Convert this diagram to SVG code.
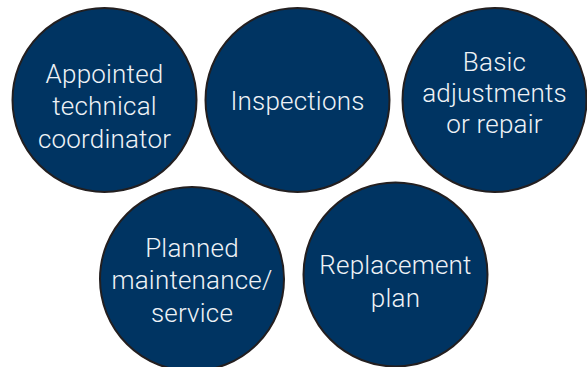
<svg xmlns="http://www.w3.org/2000/svg" width="587" height="367" viewBox="0 0 587 367">
<style>
.c{fill:#003462;stroke:#231f20;stroke-width:2}
.t{fill:#eef2f6;font-family:Roboto,"DejaVu Sans",sans-serif;font-weight:300;font-size:26px;text-anchor:middle;letter-spacing:0.2px}
</style>
<rect width="587" height="367" fill="#fff"/>
<g id="connectors"/>
<g id="n1"><circle class="c" cx="104.5" cy="100" r="92"/><text class="t"><tspan x="104.5" y="83">Appointed</tspan><tspan x="104.5" y="115">technical</tspan><tspan x="104.5" y="148">coordinator</tspan></text></g>
<g id="n2"><circle class="c" cx="297.5" cy="100" r="92"/><text class="t" x="297.5" y="110">Inspections</text></g>
<g id="n3"><circle class="c" cx="494.5" cy="100" r="92"/><text class="t"><tspan x="494.5" y="71">Basic</tspan><tspan x="494.5" y="102">adjustments</tspan><tspan x="494.5" y="133">or repair</tspan></text></g>
<g id="n4"><circle class="c" cx="192" cy="279" r="92"/><text class="t"><tspan x="192" y="257">Planned</tspan><tspan x="192" y="289">maintenance/</tspan><tspan x="192" y="322">service</tspan></text></g>
<g id="n5"><circle class="c" cx="395.5" cy="274.5" r="92"/><text class="t"><tspan x="395.5" y="274">Replacement</tspan><tspan x="395.5" y="307">plan</tspan></text></g>
</svg>
